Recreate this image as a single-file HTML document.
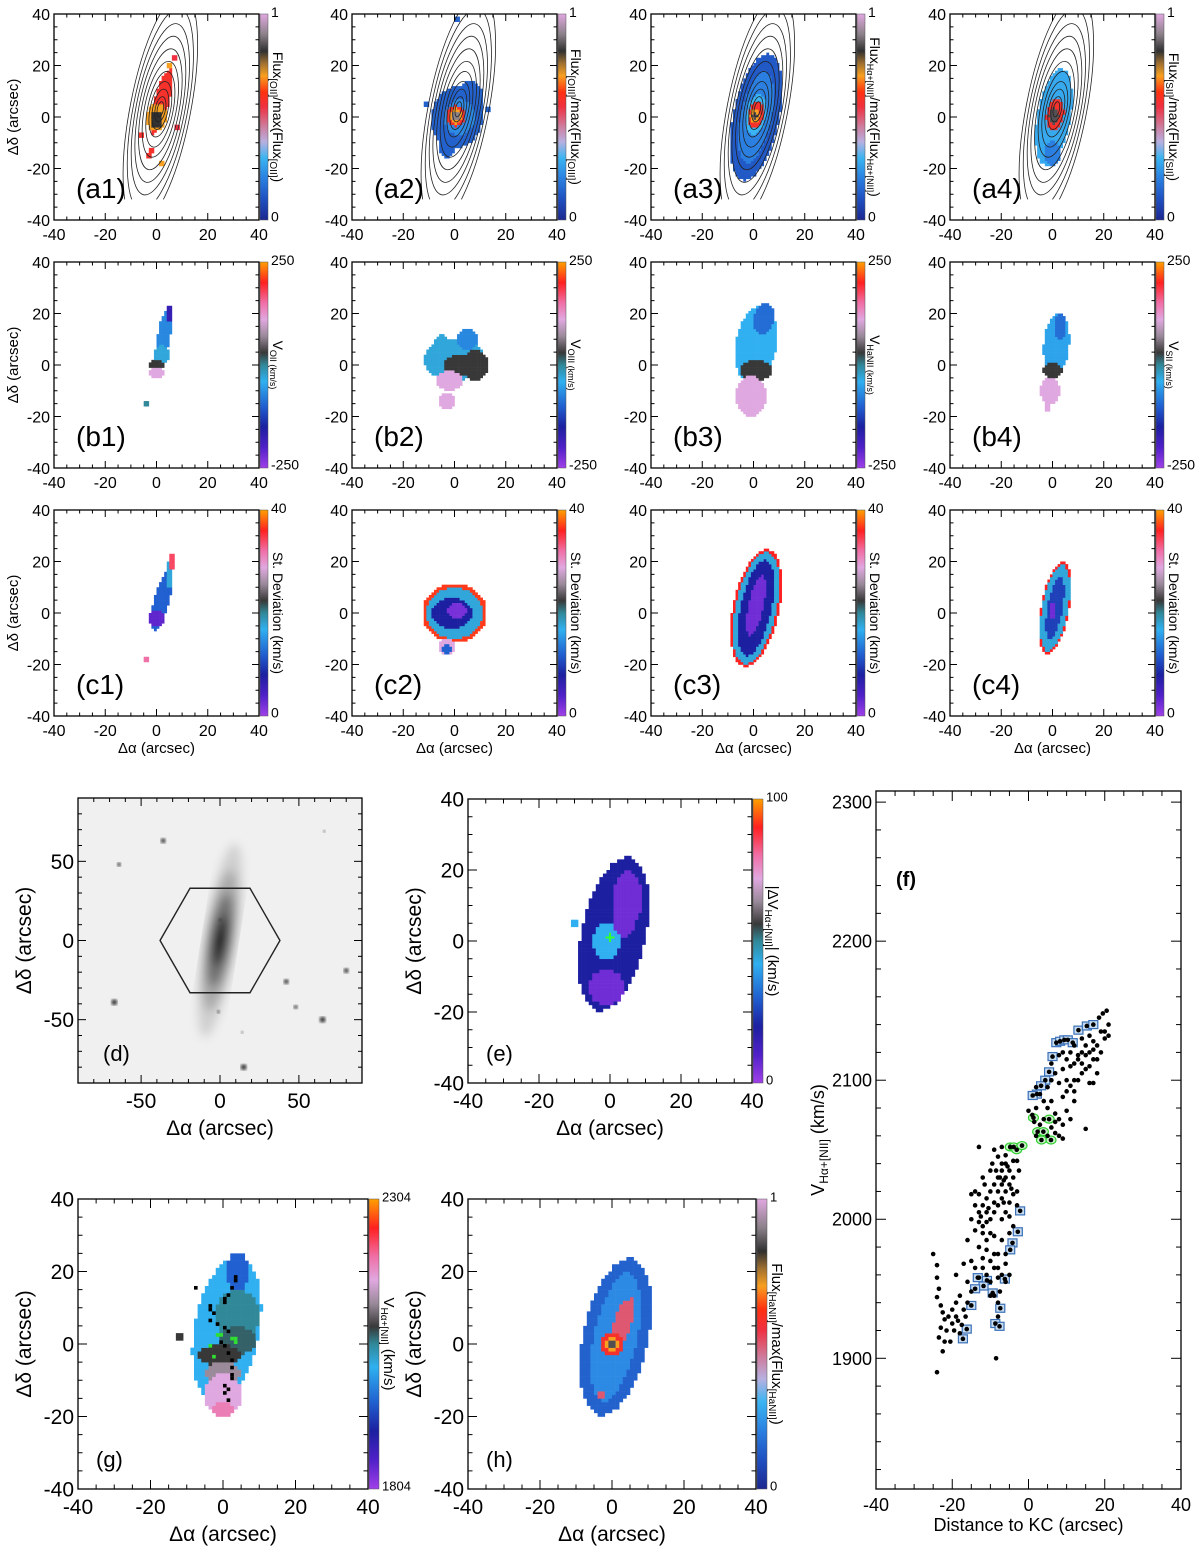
<!DOCTYPE html>
<html><head><meta charset="utf-8">
<style>
html,body{margin:0;padding:0;background:#fff;}
svg{display:block;font-family:"Liberation Sans",sans-serif;}
</style></head>
<body>
<svg id="fig" width="1200" height="1547" viewBox="0 0 1200 1547" xmlns="http://www.w3.org/2000/svg">
<defs>
<filter id="blur3"><feGaussianBlur stdDeviation="5"/></filter>
<filter id="blur1"><feGaussianBlur stdDeviation="1.5"/></filter>
</defs>
</svg>
<script>
// ---------- data ----------
const fluxStops=[[0,'#1c2890'],[0.1,'#1f4fc0'],[0.2,'#2a7fe0'],[0.3,'#3ab4f2'],[0.38,'#b8b0e0'],[0.46,'#d07898'],[0.55,'#f03040'],[0.62,'#ff3010'],[0.7,'#f8a020'],[0.76,'#a07030'],[0.82,'#303030'],[0.9,'#8a8088'],[1,'#e0a8e0']];
const velStops=[[0,'#a040e8'],[0.1,'#5020c8'],[0.2,'#1c20a0'],[0.3,'#2060d0'],[0.42,'#30b0f0'],[0.5,'#308898'],[0.56,'#383838'],[0.64,'#9a8a9a'],[0.72,'#e0a8e0'],[0.8,'#f070a8'],[0.9,'#ff2020'],[1,'#ffa000']];

// panel map blobs: [cx, cy, rx, ry, rotDeg, value]
const mapA1=[[2,6,3,13,15,0.58],[0,0,4,5.5,10,0.7],[0,-1,2.5,3.5,0,0.82],[-3,-15,1,1,0,0.58],[-2,-13,1,1.5,0,0.58],[2,-18,1,1,0,0.7],[-6,-7,0.8,0.8,0,0.58],[7,23,1,1,0,0.55],[5,20,1.5,1.5,0,0.7],[8,-4,0.8,0.8,0,0.55],[-5,-28,0.7,0.7,0,0.58]];
const mapA2=[[1,0,10,12,10,0.14],[6,8,5,6,0,0.14],[-3,-12,3,4,0,0.14],[2,0,6,7,10,0.22],[0.5,0.5,3.5,4,0,0.58],[0.5,0.5,2.5,3,0,0.7],[0.5,0.5,1.5,1.8,0,0.9],[-11,5,0.8,0.8,0,0.14],[13,3,0.8,0.8,0,0.14],[9,-5,0.8,0.8,0,0.14],[1,38,0.8,0.8,0,0.14]];
const mapA3=[[1,0,9,25,12,0.12],[1,0,6,18,12,0.2],[1,1,4,8,12,0.3],[1,1,3,5,10,0.58],[0.5,0.5,2,2.5,0,0.7],[0.5,0.5,1.2,1.5,0,0.85]];
const mapA4=[[0.5,0,6.5,19,10,0.28],[0,-14,3,5,0,0.2],[1,1,3.5,6,10,0.58],[0.5,0.5,2,3,0,0.85]];
const mapB1=[[3,12,2.5,10,10,0.36],[5,20,1.5,3,0,0.15],[2,4,3,4,0,0.44],[0,0,3,2,0,0.56],[0,-3,3,2.5,0,0.72],[-4,-15,0.8,0.8,0,0.5],[-5,-27,0.7,0.7,0,0.56],[3,-17,0.7,0.7,0,0.72]];
const mapB2=[[0,2,12,8,0,0.44],[-5,8,3,4,0,0.44],[8,0,5,6,0,0.56],[2,0,6,4,0,0.56],[-2,-6,5,4,0,0.72],[-3,-14,3,3,0,0.72],[5,10,4,4,0,0.36],[4,38,0.7,0.7,0,0.9]];
const mapB3=[[1,8,8,15,10,0.42],[4,18,4,6,10,0.32],[1,-2,6,4,0,0.56],[-1,-12,6,8,0,0.72]];
const mapB4=[[1.5,8,5,12,5,0.4],[3,15,2.5,5,0,0.32],[0,-2,4,3,0,0.56],[-1,-10,4,5,0,0.72],[-2,-16,1.5,2,0,0.72]];
const mapC1=[[2,5,3,12,15,0.3],[0,-2,3,3,0,0.08],[5,15,1.5,5,0,0.44],[6,20,1,3,0,0.85],[-4,-18,0.8,0.8,0,0.8],[-8,-28,0.7,0.7,0,0.95]];
const mapC2=[[0,0,12.5,11.5,0,0.92],[0,0,11,10,0,0.44],[-1,0,8,6,0,0.2],[1,1,4,3,0,0.05],[-3,-13,3,3,0,0.72],[-3,-14,2,2,0,0.3]];
const mapC3=[[1,2,9,23,12,0.9],[1,2,8,22,12,0.44],[1,2,6,19,12,0.2],[1,3,3,12,12,0.06]];
const mapC4=[[1,2,5.5,18,10,0.9],[1,2,5,17,10,0.44],[1,2,3,12,10,0.25],[0,1,1.5,3,0,0.06]];
const mapE=[[1,2,9,22,12,0.2],[-1,0,4,5,0,0.42],[5,12,4,8,0,0.06],[-1,-13,5,5,0,0.06],[4,6,3,5,0,0.06],[11,22,0.7,0.7,0,0.56],[-8,15,0.7,0.7,0,0.56],[-10,5,0.8,0.8,0,0.42],[9,-10,0.7,0.7,0,0.2]];
const mapG=[[1,4,9,20,10,0.42],[4,8,6,7,0,0.5],[4,1,5,4,0,0.53],[-1,-3,6,3,0,0.56],[0,-8,5,3,0,0.64],[0,-14,5,6,0,0.72],[0,-18,3,2.5,0,0.78],[4,20,3.5,5,0,0.3],[-12,2,0.8,0.8,0,0.56],[9,-10,0.7,0.7,0,0.56],[11,22,0.7,0.7,0,0.2]];
const mapH=[[1,2,9,22,12,0.14],[1,2,6,18,12,0.22],[3,6,2.5,7,20,0.5],[0,0,3,3,0,0.58],[0,0,2,2,0,0.7],[0,0,1,1,0,0.85],[-3,-14,1.2,1.2,0,0.5]];
const gBlackX=[3,3,2,1,0,0,-4,-4,-3,-4,-2,0,1,-1,0,1,2,2,2,2,0,1,0,1,-8];
const gBlackY=[18,17,15,13,12,11,10,9,8,6,5,4,3,0,-1,-3,-5,-7,-9,-10,-12,-13,-14,-16,15];
const gGreenX=[-2,-1,2,3,3,-4,-3];
const gGreenY=[2,2,1,1,0,-1,-4];

// panel (f) scatter
const fBlack=[[-25,1975],[-24,1967],[-24,1958],[-23.5,1950],[-24,1944],[-23,1938],[-22.5,1933],[-22,1928],[-23,1922],[-23.5,1915],[-22,1912],[-22.5,1905],[-24,1890],[-21,1930],[-20,1935],[-20,1925],[-19.5,1920],[-19,1930],[-18.5,1927],[-18,1918],[-17.5,1924],[-17,1935],[-16.5,1930],[-21.5,1920],[-20.5,1912],[-19,1940],[-18,1945],[-16,1940],[-15,1948],[-16,1955],[-19,1960],[-17,1968],[-15,1970],[-16,1985],[-14,1992],[-15,2000],[-13,2005],[-14,2010],[-12,1995],[-13,1980],[-11,1978],[-12,1972],[-10,1970],[-11,1960],[-9,1965],[-10,1955],[-8,1958],[-9,1945],[-8,1940],[-7.5,1948],[-8,1930],[-8.5,1900],[-9,1975],[-7,1985],[-6,1975],[-6,1968],[-5,1990],[-5,2002],[-4,1995],[-3,2010],[-3,2020],[-2.5,2035],[-4,2030],[-5,2025],[-6,2040],[-7,2035],[-8,2030],[-9,2025],[-10,2020],[-11,2015],[-12,2010],[-13,2018],[-14,2020],[-12,2030],[-10,2035],[-8,2045],[-9,2050],[-7,2052],[-6,2020],[-7,2015],[-8,2010],[-9,2005],[-10,2000],[-11,1998],[-7,2000],[-6,2005],[-5,2012],[-4,2018],[-6,2030],[-7,2025],[-8,2020],[-9,2012],[-11,2005],[-12,1990],[-13,1998],[-10,1990],[-9,1988],[-8,1975],[-13,2052],[-15,2018],[-6,2046],[-4,2042],[-3,2042],[-5,2035],[-7,2040],[-11,1985],[-14,1965],[-12,1965],[-13,1958],[-10,1945],[-6,1955],[-7,1960],[-8,1965],[-5,1960],[-7.5,2030],[-6.5,2028],[-8.5,2035],[-5.5,2038],[-10.5,2008],[-12.5,2002],[-11.5,2025],[-9.5,2040],[-6.5,2012],[-4.5,2022],
[0,2078],[1,2075],[2,2080],[1.5,2070],[3,2068],[2,2060],[4,2072],[5,2080],[6,2085],[7,2076],[8,2072],[6,2066],[7,2062],[8,2060],[9,2058],[9,2068],[10,2078],[11,2072],[12,2085],[10,2092],[8,2098],[7,2105],[9,2108],[11,2110],[12,2100],[13,2115],[14,2105],[15,2118],[16,2110],[17,2122],[18,2115],[19,2120],[20,2130],[21,2140],[19.5,2148],[20.5,2150],[18.5,2145],[20,2135],[21,2132],[17,2098],[18,2105],[16,2098],[15,2065],[12,2125],[14,2130],[16,2132],[13,2118],[11,2120],[10,2115],[9,2120],[8,2118],[6,2112],[5,2095],[4,2085],[3,2090],[2,2095],[6,2100],[9,2088],[12,2092],[14,2120],[15,2125],[17,2128],[18,2125],[19,2135],[7,2070],[5,2060],[10,2100],[11,2096],[13,2100],[15,2108],[16,2120],[17,2115],[14,2112],[12,2112]];
const fBlue=[[13.1,2136],[15.3,2139],[17,2140],[7.3,2127],[8.3,2128],[9.4,2129],[10.3,2129],[11.6,2127],[6.3,2117],[5.4,2106],[4.4,2100],[3.3,2096],[2.2,2090],[1.1,2089],[-2.2,2006],[-2.8,1991],[-4.2,1983],[-4.8,1978],[-6.2,1957],[-10.9,1956],[-11.8,1952],[-13.3,1958],[-14,1950],[-9.4,1947],[-15,1938],[-7.4,1936],[-8.7,1925],[-7.6,1923],[-16.2,1921],[-17.2,1914]];
const fGreen=[[-4.8,2052],[-3.9,2052],[-3.1,2050],[-1.7,2053],[1.3,2073],[2.4,2063],[3.9,2063],[3.4,2057],[5.4,2072],[5.9,2057]];
const fXTicks=[-40,-20,0,20,40];
const fYTicks=[1900,2000,2100,2200,2300];

// panel (d) stars [x, y, r]
const dStars=[[-36,63,2.5],[-64,48,2],[-67,-39,3],[15,-80,3],[42,-26,2.5],[80,-19,2.5],[48,-42,2],[65,-50,3],[0,13,1.5],[-1,-45,1.5],[14,-58,1.2],[66,69,1.2]];

// ---------- helpers ----------
const NS='http://www.w3.org/2000/svg';
const svg=document.getElementById('fig');
function mk(tag,attrs,parent){const e=document.createElementNS(NS,tag);for(const k in attrs)e.setAttribute(k,attrs[k]);(parent||svg).appendChild(e);return e;}
function hex(c){return [parseInt(c.substr(1,2),16),parseInt(c.substr(3,2),16),parseInt(c.substr(5,2),16)];}
function pal(stops,t){t=Math.max(0,Math.min(1,t));for(let i=1;i<stops.length;i++){if(t<=stops[i][0]){const a=stops[i-1],b=stops[i];const f=(t-a[0])/(b[0]-a[0]);const ca=hex(a[1]),cb=hex(b[1]);return 'rgb('+ca.map((v,j)=>Math.round(v+(cb[j]-v)*f)).join(',')+')';}}return stops[stops.length-1][1];}

function scaler(box,xr,yr){return {x:v=>box.x+(v-xr[0])/(xr[1]-xr[0])*box.w,y:v=>box.y+box.h-(v-yr[0])/(yr[1]-yr[0])*box.h};}

function axes(g,box,xr,yr,xt,xmin,yt,ymin,showX,fs,maj,mnr){
  const s=scaler(box,xr,yr);
  for(let v=Math.ceil(xr[0]/xmin)*xmin;v<=xr[1]+1e-9;v+=xmin){const L=(Math.abs(v/xt[1]-Math.round(v/xt[1]))<1e-6)?maj:mnr;const px=s.x(v);
    mk('line',{x1:px,y1:box.y+box.h,x2:px,y2:box.y+box.h-L,stroke:'#000','stroke-width':1},g);
    mk('line',{x1:px,y1:box.y,x2:px,y2:box.y+L,stroke:'#000','stroke-width':1},g);}
  for(let v=Math.ceil(yr[0]/ymin)*ymin;v<=yr[1]+1e-9;v+=ymin){const L=(Math.abs(v/yt[1]-Math.round(v/yt[1]))<1e-6)?maj:mnr;const py=s.y(v);
    mk('line',{x1:box.x,y1:py,x2:box.x+L,y2:py,stroke:'#000','stroke-width':1},g);
    mk('line',{x1:box.x+box.w,y1:py,x2:box.x+box.w-L,y2:py,stroke:'#000','stroke-width':1},g);}
  mk('rect',{x:box.x,y:box.y,width:box.w,height:box.h,fill:'none',stroke:'#000','stroke-width':1.3},g);
  for(let i=0;i<xt[0].length;i++){const t=mk('text',{x:s.x(xt[0][i]),y:box.y+box.h+fs+4,'font-size':fs,'text-anchor':'middle'},g);t.textContent=xt[0][i];
    
    }
  for(let i=0;i<yt[0].length;i++){const t=mk('text',{x:box.x-4,y:s.y(yt[0][i])+fs*0.36,'font-size':fs,'text-anchor':'end'},g);t.textContent=yt[0][i];
    
    }
  return s;
}

function drawMap(g,s,blobs,stops){
  for(let gx=-40;gx<40;gx++){for(let gy=-40;gy<40;gy++){
    const x=gx+0.5,y=gy+0.5;let val=null;
    for(const b of blobs){const r=b[4]*Math.PI/180;const dx=x-b[0],dy=y-b[1];
      const u=dx*Math.cos(r)-dy*Math.sin(r),v=dx*Math.sin(r)+dy*Math.cos(r);
      if((u/b[2])**2+(v/b[3])**2<=1)val=b[5];}
    if(val!==null){const r=mk('rect',{x:s.x(gx),y:s.y(gy+1),width:s.x(gx+1)-s.x(gx)+0.3,height:s.y(gy)-s.y(gy+1)+0.3,fill:pal(stops,val)},g);
      
      }
  }}
}

function colorbar(g,x,y,w,h,stops,id,top,bot,title,fs,tfs){
  const lg=mk('linearGradient',{id:id,x1:0,y1:1,x2:0,y2:0},svg.querySelector('defs'));
  stops.forEach(st=>mk('stop',{offset:st[0],'stop-color':st[1]},lg));
  const r=mk('rect',{x:x,y:y,width:w,height:h,fill:'url(#'+id+')',stroke:'#555','stroke-width':0.5},g);
  
  
  const t1=mk('text',{x:x+w+3,y:y+fs*0.2,'font-size':fs},g);t1.textContent=top;
  
  
  const t2=mk('text',{x:x+w+3,y:y+h+fs*0.1,'font-size':fs},g);t2.textContent=bot;
  
  
  const tt=mk('text',{x:0,y:0,'font-size':tfs,'text-anchor':'middle',transform:'translate('+(x+w+5)+','+(y+h/2)+') rotate(90)'},g);
  tt.innerHTML=title;
  
  
}

// ---------- small panels ----------
const colL=[54,352,651,950], rowT=[14,262,510];
const small=[
 [mapA1,'a',0,0,'(a1)','Flux<tspan font-size="10" dy="3">[OII]</tspan><tspan dy="-3">/max(Flux</tspan><tspan font-size="10" dy="3">[OII]</tspan><tspan dy="-3">)</tspan>','1','0'],
 [mapA2,'a',1,0,'(a2)','Flux<tspan font-size="10" dy="3">[OIII]</tspan><tspan dy="-3">/max(Flux</tspan><tspan font-size="10" dy="3">[OIII]</tspan><tspan dy="-3">)</tspan>','1','0'],
 [mapA3,'a',2,0,'(a3)','Flux<tspan font-size="9" dy="3">Hα+[NII]</tspan><tspan dy="-3">/max(Flux</tspan><tspan font-size="9" dy="3">Hα+[NII]</tspan><tspan dy="-3">)</tspan>','1','0'],
 [mapA4,'a',3,0,'(a4)','Flux<tspan font-size="10" dy="3">[SII]</tspan><tspan dy="-3">/max(Flux</tspan><tspan font-size="10" dy="3">[SII]</tspan><tspan dy="-3">)</tspan>','1','0'],
 [mapB1,'v',0,1,'(b1)','V<tspan font-size="9" dy="3">OII (km/s)</tspan>','250','-250'],
 [mapB2,'v',1,1,'(b2)','V<tspan font-size="9" dy="3">OIII (km/s)</tspan>','250','-250'],
 [mapB3,'v',2,1,'(b3)','V<tspan font-size="9" dy="3">HaNII (km/s)</tspan>','250','-250'],
 [mapB4,'v',3,1,'(b4)','V<tspan font-size="9" dy="3">SII (km/s)</tspan>','250','-250'],
 [mapC1,'v',0,2,'(c1)','St. Deviation (km/s)','40','0'],
 [mapC2,'v',1,2,'(c2)','St. Deviation (km/s)','40','0'],
 [mapC3,'v',2,2,'(c3)','St. Deviation (km/s)','40','0'],
 [mapC4,'v',3,2,'(c4)','St. Deviation (km/s)','40','0']];
const tickLab=[[-40,-20,0,20,40],20];
small.forEach((p,i)=>{
  const g=mk('g',{});
  
  
  const box={x:colL[p[2]],y:rowT[p[3]],w:205,h:206};
  const s=scaler(box,[-40,40],[-40,40]);
  const stops=p[1]==='a'?fluxStops:velStops;
  drawMap(g,s,p[0],stops);
  if(p[1]==='a'){ // contours
    const cg=mk('g',{},g);
    
    
    const cp=mk('clipPath',{id:'clip'+i},svg.querySelector('defs'));
    mk('rect',{x:box.x,y:box.y,width:box.w,height:s.y(-32)-box.y},cp);
    cg.setAttribute('clip-path','url(#clip'+i+')');
    const k=box.w/80;
    [[1.2,3],[2,5],[3,8],[4,11],[5,15],[6.2,19],[7.3,24],[8.4,29],[9.5,34],[10.6,40],[11.8,46]].forEach(c=>{
      mk('ellipse',{cx:s.x(1.5),cy:s.y(3),rx:c[0]*k,ry:c[1]*k,fill:'none',stroke:'#222','stroke-width':0.8,transform:'rotate(11 '+s.x(1.5)+' '+s.y(3)+')'},cg);});
  }
  axes(g,box,[-40,40],[-40,40],tickLab,5,tickLab,5,true,16,7,3.5);
  colorbar(g,box.x+box.w+1,box.y,8,box.h,stops,'cb'+i,p[6],p[7],p[5],14,14);
  const lb=mk('text',{x:box.x+22,y:box.y+box.h-22,'font-size':28},g);lb.textContent=p[4];
  
  
  if(p[2]===0){const yt=mk('text',{x:0,y:0,'font-size':15,'text-anchor':'middle',transform:'translate('+(box.x-36)+','+(box.y+box.h/2)+') rotate(-90)'},g);yt.textContent='Δδ (arcsec)';
    
    }
  if(p[3]===2){const xt=mk('text',{x:box.x+box.w/2,y:box.y+box.h+37,'font-size':15,'text-anchor':'middle'},g);xt.textContent='Δα (arcsec)';
    
    }
});

// ---------- big map panels ----------
function bigAxisTitles(g,box){
  const yt=mk('text',{x:0,y:0,'font-size':21,'text-anchor':'middle',transform:'translate('+(box.x-47)+','+(box.y+box.h/2)+') rotate(-90)'},g);yt.textContent='Δδ (arcsec)';
  
  
  const xt=mk('text',{x:box.x+box.w/2,y:box.y+box.h+52,'font-size':21,'text-anchor':'middle'},g);xt.textContent='Δα (arcsec)';
  
  
}
function label(g,x,y,txt,fs,bold){const t=mk('text',{x:x,y:y,'font-size':fs,'font-weight':bold?'bold':'normal'},g);t.textContent=txt;
  
  }

// (d)
(function(){
  const g=mk('g',{});
  
  
  const box={x:78,y:798,w:284,h:285};
  const s=scaler(box,[-90,90],[-90,90]);
  mk('rect',{x:box.x,y:box.y,width:box.w,height:box.h,fill:'#f0f0f0'},g);
  const cx=s.x(0),cy=s.y(0),k=box.w/180;
  const gal=mk('g',{filter:'url(#blur3)',transform:'rotate(9 '+cx+' '+cy+')'},g);
  
  
  mk('ellipse',{cx:cx,cy:cy,rx:10*k,ry:62*k,fill:'#cfcfcf'},gal);
  mk('ellipse',{cx:cx,cy:cy,rx:9*k,ry:45*k,fill:'#a8a8a8'},gal);
  mk('ellipse',{cx:cx,cy:cy,rx:7*k,ry:30*k,fill:'#6e6e6e'},gal);
  mk('ellipse',{cx:cx,cy:cy,rx:4.5*k,ry:16*k,fill:'#2a2a2a'},gal);
  mk('ellipse',{cx:cx,cy:cy,rx:2.5*k,ry:5*k,fill:'#000'},gal);
  dStars.forEach(st=>{const c=mk('circle',{cx:s.x(st[0]),cy:s.y(st[1]),r:st[2],fill:'#333',filter:'url(#blur1)'},g);
    
    });
  const hx=[[-38,0],[-19,33],[19,33],[38,0],[19,-33],[-19,-33]];
  const hex=mk('polygon',{points:hx.map(p=>s.x(p[0])+','+s.y(p[1])).join(' '),fill:'none',stroke:'#222','stroke-width':1.4},g);
  
  
  const t=[[-50,0,50],50];
  axes(g,box,[-90,90],[-90,90],t,10,t,10,true,21,8,4);
  bigAxisTitles(g,box);
  label(g,box.x+25,box.y+box.h-22,'(d)',22);
})();

function bigMap(name,box,blobs,stops,cbid,top,bot,title,lab,extra){
  const g=mk('g',{});
  
  
  const s=scaler(box,[-40,40],[-40,40]);
  drawMap(g,s,blobs,stops);
  if(extra)extra(g,s);
  const t=[[-40,-20,0,20,40],20];
  axes(g,box,[-40,40],[-40,40],t,5,t,5,true,21,9,4.5);
  colorbar(g,box.x+box.w+1,box.y,10,box.h,stops,cbid,top,bot,title,13,15);
  bigAxisTitles(g,box);
  label(g,box.x+18,box.y+box.h-22,lab,22);
}
bigMap('panel-e',{x:468,y:799,w:284,h:284},mapE,velStops,'cbE','100','0','|ΔV<tspan font-size="10" dy="3">Hα+[NII]</tspan><tspan dy="-3">| (km/s)</tspan>','(e)',(g,s)=>{
  const c=mk('text',{x:s.x(0),y:s.y(1)+6,'font-size':18,'font-weight':'bold','text-anchor':'middle',fill:'#30ff30'},g);c.textContent='+';
  
  
});
bigMap('panel-g',{x:78,y:1199,w:290,h:290},mapG,velStops,'cbG','2304','1804','V<tspan font-size="10" dy="3">Hα+[NII]</tspan><tspan dy="-3"> (km/s)</tspan>','(g)',(g,s)=>{
  gBlackX.forEach((x,i)=>{const r=mk('rect',{x:s.x(x),y:s.y(gBlackY[i]+1),width:s.x(1)-s.x(0),height:s.x(1)-s.x(0),fill:'#000'},g);
    
    });
  gGreenX.forEach((x,i)=>{const r=mk('rect',{x:s.x(x),y:s.y(gGreenY[i]+1),width:s.x(1)-s.x(0),height:s.x(1)-s.x(0),fill:'#30e030'},g);
    
    });
});
bigMap('panel-h',{x:468,y:1199,w:288,h:290},mapH,fluxStops,'cbH','1','0','Flux<tspan font-size="10" dy="3">[HaNII]</tspan><tspan dy="-3">/max(Flux</tspan><tspan font-size="10" dy="3">[HaNII]</tspan><tspan dy="-3">)</tspan>','(h)');

// ---------- (f) scatter ----------
(function(){
  const g=mk('g',{});
  
  
  const box={x:876,y:791,w:305,h:698};
  const xr=[-40,40],yr=[1806,2308];
  const s=scaler(box,xr,yr);
  axes(g,box,xr,yr,[fXTicks,20],5,[fYTicks,100],20,true,18,10,5);
  fBlue.forEach(p=>{const r=mk('rect',{x:s.x(p[0])-4.5,y:s.y(p[1])-4,width:9,height:8,fill:'#c8dcf0',stroke:'#3a70b8','stroke-width':1.2},g);
    
    });
  fGreen.forEach(p=>{const c=mk('ellipse',{cx:s.x(p[0]),cy:s.y(p[1]),rx:5,ry:4,fill:'#c8f0c8',stroke:'#30d030','stroke-width':1.2},g);
    
    });
  fBlack.concat(fBlue,fGreen).forEach(p=>{const c=mk('circle',{cx:s.x(p[0]),cy:s.y(p[1]),r:2.3,fill:'#000'},g);
    
    });
  const xt=mk('text',{x:box.x+box.w/2,y:box.y+box.h+42,'font-size':18,'text-anchor':'middle'},g);xt.textContent='Distance to KC (arcsec)';
  
  
  const yt=mk('text',{x:0,y:0,'font-size':18,'text-anchor':'middle',transform:'translate('+(box.x-52)+','+(box.y+box.h/2)+') rotate(-90)'},g);
  yt.innerHTML='V<tspan font-size="12" dy="4">Hα+[NII]</tspan><tspan dy="-4"> (km/s)</tspan>';
  
  
  label(g,box.x+20,box.y+95,'(f)',20,true);
})();
</script>
</body></html>
